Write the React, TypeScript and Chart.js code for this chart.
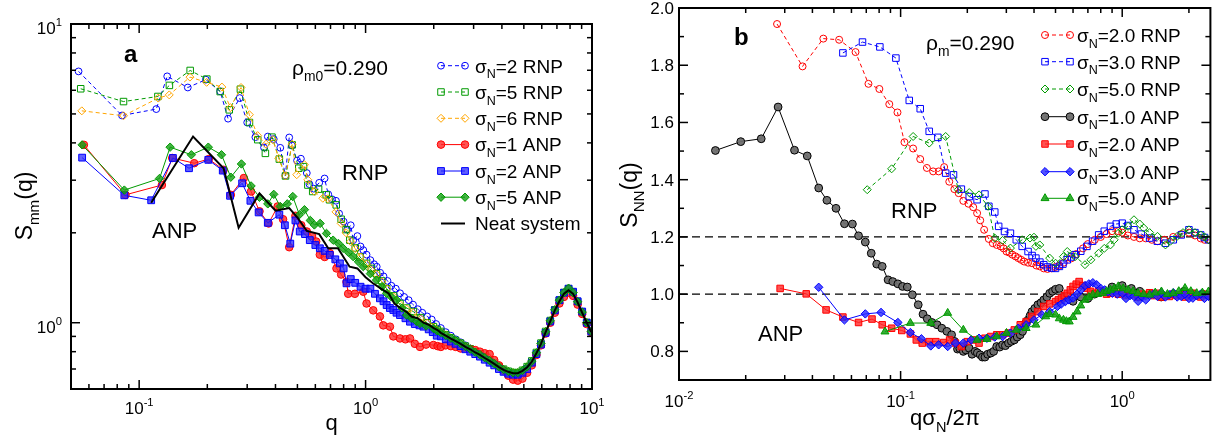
import React, { useEffect, useRef } from "react";
import { Chart, registerables } from "chart.js";

Chart.register(...registerables);

const FONT = '"Liberation Sans", Helvetica, Arial, sans-serif';

type Pt = [number, number];

// ================= Panel a : S_mm(q) =================
const qTailA = [2.15, 2.26, 2.38, 2.5, 2.63, 2.76, 2.9, 3.05, 3.2, 3.36, 3.53, 3.7, 3.88, 4.07, 4.27, 4.48, 4.7, 4.93, 5.17, 5.42, 5.68, 5.95, 6.24, 6.54, 6.85, 7.18, 7.52, 7.88, 8.25, 8.64, 9.05, 9.48, 9.93];

const aRNP2: Pt[] = [[0.054,6.94],[0.084,4.94],[0.119,5.19],[0.133,6.68],[0.164,6.13],[0.197,6.51],[0.228,5.95],[0.247,4.82],[0.278,5.65],[0.300,4.68],[0.326,4.18],[0.356,3.86],[0.370,4.20],[0.393,4.12],[0.420,3.85],[0.442,3.11],[0.460,4.17],[0.473,3.92],[0.498,3.49],[0.518,3.54],[0.550,3.17],[0.565,2.91],[0.590,2.81],[0.624,2.94],[0.659,3.04],[0.684,2.69],[0.711,2.59],[0.740,2.56],[0.764,2.32],[0.800,2.18],[0.830,2.05],[0.860,2.12],[0.882,1.89],[0.920,1.95],[0.950,1.80],[0.977,1.75],[1.01,1.69],[1.05,1.62],[1.09,1.57],[1.12,1.54],[1.16,1.47],[1.20,1.43],[1.25,1.38],[1.30,1.33],[1.36,1.30],[1.42,1.255],[1.48,1.22],[1.55,1.19],[1.62,1.15],[1.70,1.11],[1.78,1.08],[1.87,1.05],[1.96,1.025],[2.05,0.99]];
const aRNP2Tail = [0.96,0.93,0.905,0.88,0.86,0.84,0.82,0.80,0.785,0.765,0.748,0.73,0.713,0.697,0.684,0.676,0.676,0.686,0.705,0.735,0.785,0.845,0.925,1.01,1.10,1.19,1.26,1.30,1.27,1.18,1.09,1.00,0.935];

const aRNP5: Pt[] = [[0.0552,6.07],[0.0853,5.50],[0.121,5.72],[0.136,6.23],[0.168,6.99],[0.199,6.54],[0.228,5.94],[0.250,5.16],[0.280,6.05],[0.307,4.68],[0.334,4.10],[0.361,3.69],[0.386,4.18],[0.416,3.53],[0.443,3.10],[0.474,3.94],[0.507,3.29],[0.532,3.33],[0.556,2.89],[0.584,2.75],[0.62,2.80],[0.67,2.68],[0.693,2.58],[0.742,2.48],[0.78,2.22],[0.82,2.05],[0.852,1.89],[0.90,1.78],[0.944,1.66],[1.01,1.58],[1.06,1.52],[1.118,1.46],[1.18,1.38],[1.239,1.30],[1.33,1.23],[1.419,1.16],[1.52,1.12],[1.625,1.09],[1.75,1.04],[1.87,1.00],[1.993,0.97],[2.07,0.95]];
const aRNP5Tail = [0.935,0.912,0.89,0.872,0.854,0.835,0.818,0.80,0.784,0.766,0.749,0.732,0.714,0.699,0.688,0.681,0.681,0.693,0.713,0.745,0.795,0.855,0.935,1.017,1.105,1.19,1.262,1.30,1.262,1.177,1.087,1.002,0.937];

const aRNP6: Pt[] = [[0.0558,5.12],[0.0853,4.93],[0.1214,5.65],[0.1358,5.79],[0.1676,6.64],[0.1986,6.38],[0.232,6.15],[0.2527,5.25],[0.2817,6.13],[0.3068,4.97],[0.3338,4.23],[0.3634,3.96],[0.389,4.10],[0.4135,3.55],[0.4426,3.10],[0.4737,3.96],[0.4966,3.13],[0.537,3.38],[0.5557,3.01],[0.5944,2.75],[0.6474,2.61],[0.6813,2.60],[0.74,2.35],[0.78,2.15],[0.82,2.00],[0.86,1.87],[0.90,1.77],[0.95,1.66],[1.01,1.57],[1.06,1.50],[1.12,1.45],[1.18,1.37],[1.24,1.30],[1.33,1.22],[1.42,1.15],[1.52,1.11],[1.62,1.08],[1.75,1.03],[1.87,0.995],[1.99,0.965],[2.07,0.945]];
const aRNP6Tail = [0.93,0.91,0.89,0.871,0.853,0.834,0.817,0.798,0.783,0.765,0.748,0.731,0.713,0.698,0.687,0.68,0.68,0.692,0.712,0.744,0.794,0.854,0.934,1.016,1.104,1.188,1.26,1.298,1.26,1.176,1.086,1.001,0.936];

const aANP1: Pt[] = [[0.057,3.94],[0.087,2.68],[0.126,2.89],[0.140,3.56],[0.175,3.42],[0.203,3.53],[0.236,3.25],[0.254,2.68],[0.290,3.05],[0.312,2.75],[0.340,2.36],[0.373,2.15],[0.409,2.45],[0.432,2.22],[0.460,1.79],[0.490,2.28],[0.520,2.12],[0.550,2.02],[0.580,1.95],[0.605,1.87],[0.628,1.69],[0.660,1.66],[0.695,1.71],[0.744,1.52],[0.780,1.45],[0.824,1.37],[0.838,1.25],[0.897,1.25],[0.977,1.27],[1.01,1.16],[1.081,1.10],[1.157,1.05],[1.197,0.98],[1.281,0.97],[1.326,0.90],[1.419,0.886],[1.50,0.88],[1.571,0.886],[1.65,0.85],[1.739,0.83],[1.85,0.845],[1.993,0.842],[2.08,0.835]];
const aANP1Tail = [0.83,0.84,0.835,0.83,0.82,0.825,0.815,0.81,0.80,0.79,0.785,0.75,0.72,0.69,0.665,0.645,0.64,0.65,0.68,0.72,0.78,0.84,0.92,1.00,1.08,1.16,1.22,1.26,1.23,1.15,1.07,0.99,0.93];

const aANP2: Pt[] = [[0.056,3.57],[0.086,2.67],[0.113,2.57],[0.141,3.56],[0.166,3.29],[0.202,3.51],[0.234,3.23],[0.252,2.66],[0.285,2.93],[0.310,2.56],[0.337,2.34],[0.370,2.16],[0.416,2.30],[0.440,2.12],[0.465,1.84],[0.490,2.20],[0.512,2.02],[0.540,1.98],[0.567,1.89],[0.600,1.82],[0.628,1.775],[0.660,1.74],[0.695,1.686],[0.735,1.63],[0.770,1.58],[0.800,1.52],[0.824,1.355],[0.860,1.40],[0.900,1.36],[0.950,1.32],[1.00,1.30],[1.05,1.30],[1.10,1.25],[1.157,1.207],[1.20,1.18],[1.239,1.146],[1.28,1.12],[1.326,1.103],[1.37,1.08],[1.419,1.061],[1.50,1.035],[1.571,1.008],[1.65,0.99],[1.73,0.98],[1.80,0.97],[1.90,0.95],[1.98,0.93],[2.062,0.905]];
const aANP2Tail = [0.90,0.88,0.865,0.85,0.835,0.815,0.80,0.785,0.77,0.752,0.735,0.72,0.70,0.685,0.675,0.67,0.67,0.68,0.70,0.735,0.785,0.845,0.925,1.01,1.10,1.19,1.26,1.30,1.27,1.18,1.09,1.00,0.935];

const aANP5: Pt[] = [[0.056,3.94],[0.086,2.78],[0.123,3.04],[0.137,3.87],[0.170,3.65],[0.202,3.87],[0.231,3.65],[0.254,3.07],[0.283,3.40],[0.312,2.87],[0.340,2.63],[0.370,2.50],[0.393,2.69],[0.420,2.45],[0.451,2.50],[0.477,2.645],[0.510,2.30],[0.537,2.39],[0.570,2.20],[0.594,2.125],[0.630,2.15],[0.672,1.99],[0.719,1.89],[0.760,1.84],[0.796,1.775],[0.840,1.72],[0.882,1.664],[0.930,1.60],[0.977,1.541],[1.05,1.46],[1.118,1.39],[1.18,1.32],[1.239,1.254],[1.30,1.22],[1.372,1.191],[1.45,1.12],[1.518,1.061],[1.60,1.035],[1.68,1.01],[1.739,0.995],[1.85,0.975],[1.993,0.957],[2.07,0.94]];
const aANP5Tail = [0.927,0.907,0.888,0.87,0.852,0.833,0.816,0.797,0.782,0.764,0.747,0.73,0.712,0.697,0.687,0.68,0.68,0.692,0.712,0.743,0.793,0.853,0.933,1.015,1.105,1.19,1.26,1.305,1.26,1.175,1.085,1.00,0.935];

const aNeat: Pt[] = [[0.113,2.52],[0.173,4.20],[0.236,3.29],[0.275,2.08],[0.34,2.71],[0.40,2.37],[0.46,2.42],[0.50,2.25],[0.55,2.03],[0.624,1.98],[0.684,1.775],[0.755,1.775],[0.85,1.54],[0.92,1.52],[1.0,1.42],[1.078,1.355],[1.17,1.30],[1.264,1.254],[1.34,1.16],[1.423,1.12],[1.51,1.09],[1.60,1.047],[1.70,1.035],[1.80,1.00],[1.90,0.985],[2.0,0.96],[2.08,0.945]];
const aNeatTail = [0.925,0.905,0.885,0.868,0.85,0.83,0.815,0.795,0.78,0.762,0.745,0.728,0.71,0.695,0.685,0.678,0.678,0.69,0.71,0.74,0.79,0.85,0.93,1.01,1.10,1.18,1.25,1.285,1.25,1.17,1.08,1.00,0.93];

// ================= Panel b : S_NN(q) =================
const bRNP2: Pt[] = [[0.0277,1.944],[0.0361,1.796],[0.0448,1.893],[0.0528,1.889],[0.0626,1.846],[0.0716,1.735],[0.0802,1.717],[0.0889,1.664],[0.0968,1.635],[0.1041,1.531],[0.1139,1.509],[0.1226,1.472],[0.1314,1.441],[0.1402,1.429],[0.1485,1.429],[0.1572,1.444],[0.1658,1.393],[0.1748,1.367],[0.1828,1.353],[0.1919,1.326],[0.2024,1.316],[0.2126,1.304],[0.2214,1.283],[0.2287,1.258],[0.2382,1.225],[0.2501,1.193],[0.2605,1.178],[0.2714,1.172],[0.2827,1.167],[0.2915,1.16],[0.3005,1.149],[0.31,1.145],[0.3194,1.138],[0.33,1.132],[0.3396,1.126],[0.35,1.12],[0.361,1.114],[0.376,1.11],[0.3916,1.108],[0.41,1.10],[0.4247,1.097],[0.4426,1.09],[0.46,1.088],[0.48,1.09],[0.50,1.095],[0.5208,1.10],[0.545,1.11],[0.5887,1.125],[0.62,1.14],[0.6653,1.16],[0.70,1.175],[0.7517,1.19],[0.80,1.20],[0.8495,1.21],[0.90,1.22],[0.96,1.22],[1.0,1.215],[1.06,1.205],[1.13,1.20],[1.2,1.195],[1.277,1.195],[1.36,1.19],[1.443,1.185],[1.55,1.19],[1.698,1.20],[1.85,1.21],[2.0,1.215],[2.13,1.205],[2.259,1.195],[2.35,1.19],[2.452,1.19]];

const bRNP3: Pt[] = [[0.0549,1.843],[0.0673,1.881],[0.0806,1.864],[0.0952,1.825],[0.1094,1.677],[0.1226,1.648],[0.1346,1.569],[0.1473,1.548],[0.1597,1.423],[0.1733,1.417],[0.188,1.367],[0.204,1.341],[0.2214,1.330],[0.2402,1.350],[0.2501,1.307],[0.266,1.287],[0.277,1.237],[0.2944,1.219],[0.313,1.213],[0.3327,1.19],[0.3537,1.167],[0.376,1.149],[0.392,1.135],[0.4078,1.126],[0.425,1.112],[0.4426,1.103],[0.46,1.095],[0.4801,1.091],[0.50,1.09],[0.5208,1.097],[0.54,1.105],[0.565,1.12],[0.59,1.13],[0.613,1.138],[0.65,1.15],[0.6929,1.167],[0.735,1.185],[0.783,1.207],[0.83,1.22],[0.8849,1.237],[0.94,1.245],[1.0,1.248],[1.06,1.24],[1.13,1.225],[1.22,1.21],[1.329,1.196],[1.44,1.185],[1.567,1.178],[1.70,1.19],[1.847,1.207],[2.0,1.225],[2.13,1.215],[2.259,1.207],[2.35,1.198],[2.452,1.19]];

const bRNP5: Pt[] = [[0.0707,1.365],[0.0911,1.438],[0.1139,1.551],[0.1346,1.528],[0.1597,1.551],[0.182,1.365],[0.204,1.355],[0.2259,1.347],[0.2482,1.307],[0.266,1.196],[0.2885,1.188],[0.313,1.161],[0.3537,1.19],[0.3837,1.196],[0.3998,1.199],[0.4078,1.167],[0.4247,1.172],[0.4706,1.126],[0.5002,1.108],[0.5429,1.131],[0.565,1.149],[0.613,1.131],[0.6791,1.103],[0.7222,1.12],[0.783,1.143],[0.83,1.16],[0.8849,1.172],[0.92,1.19],[0.9601,1.213],[1.0,1.225],[1.063,1.237],[1.13,1.26],[1.2,1.245],[1.251,1.231],[1.33,1.215],[1.443,1.202],[1.567,1.172],[1.65,1.185],[1.769,1.202],[1.88,1.215],[2.0,1.225],[2.13,1.215],[2.259,1.207],[2.35,1.2],[2.452,1.19]];

const bANP1: Pt[] = [[0.0146,1.502],[0.0190,1.533],[0.0235,1.543],[0.0280,1.654],[0.0332,1.503],[0.0379,1.483],[0.0427,1.371],[0.0465,1.328],[0.0511,1.300],[0.0558,1.246],[0.0606,1.245],[0.0646,1.204],[0.0693,1.182],[0.0737,1.143],[0.0780,1.105],[0.0826,1.097],[0.0878,1.050],[0.0922,1.044],[0.0972,1.036],[0.1020,1.027],[0.1072,1.025],[0.1130,0.998],[0.1201,0.963],[0.1262,0.930],[0.1319,0.914],[0.1385,0.901],[0.1461,0.893],[0.1534,0.881],[0.1617,0.870],[0.1699,0.858],[0.175,0.835],[0.1806,0.808],[0.185,0.81],[0.1919,0.800],[0.197,0.805],[0.2040,0.811],[0.21,0.79],[0.2169,0.800],[0.222,0.795],[0.2287,0.788],[0.234,0.78],[0.2402,0.780],[0.247,0.79],[0.2553,0.794],[0.263,0.80],[0.2714,0.817],[0.28,0.815],[0.2885,0.823],[0.297,0.82],[0.3067,0.829],[0.316,0.835],[0.3260,0.840],[0.336,0.85],[0.3466,0.858],[0.355,0.87],[0.3610,0.887],[0.368,0.90],[0.3760,0.910],[0.384,0.925],[0.3916,0.939],[0.403,0.95],[0.4163,0.963],[0.43,0.97],[0.4426,0.980],[0.457,0.99],[0.4706,1.003],[0.485,1.01],[0.5002,1.017],[0.52,1.02],[0.55,0.99],[0.6,0.975],[0.65,0.99],[0.7,0.985],[0.75,1.0],[0.8,1.01],[0.9,1.025],[1.0,1.03],[1.1,1.02],[1.2,1.01],[1.35,1.0],[1.5,0.99],[1.7,1.0],[1.9,1.01],[2.1,1.0],[2.3,1.0],[2.45,0.995]];

const bANP2: Pt[] = [[0.0286,1.020],[0.0375,1.001],[0.0461,0.945],[0.0549,0.920],[0.0646,0.901],[0.0743,0.913],[0.0826,0.893],[0.0911,0.881],[0.1012,0.873],[0.1107,0.861],[0.1177,0.840],[0.1252,0.829],[0.1346,0.834],[0.1443,0.834],[0.1565,0.831],[0.1664,0.840],[0.1769,0.829],[0.188,0.817],[0.1999,0.834],[0.2126,0.840],[0.2259,0.829],[0.2402,0.846],[0.2553,0.852],[0.2714,0.858],[0.2885,0.858],[0.3067,0.864],[0.326,0.875],[0.3466,0.893],[0.3685,0.904],[0.3916,0.922],[0.4163,0.939],[0.4426,0.957],[0.4706,0.966],[0.50,0.974],[0.515,0.98],[0.532,0.986],[0.548,0.995],[0.565,1.003],[0.583,1.015],[0.60,1.027],[0.62,1.035],[0.639,1.044],[0.665,1.03],[0.693,1.021],[0.72,1.01],[0.752,1.003],[0.785,1.012],[0.816,1.009],[0.85,1.0],[0.885,1.003],[0.92,1.01],[0.96,1.0],[1.0,1.006],[1.04,0.995],[1.085,1.002],[1.13,0.998],[1.18,0.99],[1.23,1.0],[1.277,0.998],[1.33,1.005],[1.385,0.995],[1.443,1.003],[1.50,0.99],[1.565,0.995],[1.631,0.992],[1.70,1.0],[1.77,0.995],[1.847,0.998],[1.92,0.99],[2.0,1.0],[2.083,1.003],[2.17,0.995],[2.26,0.99],[2.35,1.0],[2.452,0.998]];

const bANP3: Pt[] = [[0.0427,1.024],[0.0558,0.910],[0.0693,0.931],[0.0816,0.936],[0.0972,0.901],[0.1107,0.866],[0.1241,0.844],[0.1368,0.819],[0.1485,0.823],[0.1631,0.817],[0.1769,0.829],[0.1919,0.829],[0.2083,0.840],[0.2259,0.846],[0.2452,0.846],[0.266,0.850],[0.2885,0.852],[0.313,0.864],[0.3396,0.881],[0.3685,0.893],[0.3998,0.910],[0.4337,0.928],[0.4706,0.939],[0.51,0.957],[0.53,0.965],[0.554,0.974],[0.575,0.98],[0.60,0.986],[0.625,1.0],[0.652,1.015],[0.68,1.03],[0.707,1.036],[0.737,1.04],[0.767,1.033],[0.80,1.02],[0.833,1.015],[0.865,1.008],[0.903,1.003],[0.95,1.0],[1.0,1.003],[1.04,0.985],[1.085,0.995],[1.13,0.992],[1.18,0.975],[1.23,0.99],[1.277,0.98],[1.33,0.995],[1.385,1.0],[1.443,0.992],[1.50,1.005],[1.565,0.99],[1.631,0.998],[1.70,1.005],[1.77,0.99],[1.847,0.992],[1.92,1.0],[2.0,0.985],[2.083,0.986],[2.17,0.995],[2.26,1.0],[2.35,0.985],[2.452,0.992]];

const bANP5: Pt[] = [[0.085,0.869],[0.1107,0.899],[0.1368,0.899],[0.1631,0.934],[0.1919,0.875],[0.2214,0.840],[0.2452,0.843],[0.2714,0.852],[0.3005,0.864],[0.3327,0.875],[0.3685,0.881],[0.4078,0.893],[0.4518,0.922],[0.4706,0.93],[0.50,0.928],[0.52,0.915],[0.543,0.91],[0.56,0.905],[0.577,0.904],[0.60,0.92],[0.626,0.939],[0.65,0.96],[0.679,0.98],[0.707,0.99],[0.737,0.998],[0.775,1.0],[0.816,1.003],[0.85,1.01],[0.885,1.015],[0.92,1.02],[0.96,1.027],[1.01,1.02],[1.063,1.015],[1.12,1.01],[1.177,1.003],[1.25,1.0],[1.329,0.998],[1.41,1.005],[1.503,1.009],[1.60,1.0],[1.698,1.003],[1.80,1.01],[1.92,1.021],[2.04,1.01],[2.169,1.003],[2.30,1.005],[2.452,1.009]];

// ================= axes / tick labels =================
const aXMajor = [0.1, 1, 10];
const aXExp = ["-1", "0", "1"];
const aYMajor = [1, 10];
const aYExp = ["0", "1"];
const bXMajor = [0.01, 0.1, 1];
const bXExp = ["-2", "-1", "0"];
const bYMajor = [0.8, 1.0, 1.2, 1.4, 1.6, 1.8, 2.0];
const bYMinor = [0.7, 0.9, 1.1, 1.3, 1.5, 1.7, 1.9];
const bRefLines = [1.0, 1.2];

// ================= helpers =================
type Part = { t: string; s?: "sub" | "sup" };

function richDraw(ctx: any, parts: Part[], x: number, y: number, size: number, align: string, bold = false) {
  const w = bold ? "bold " : "";
  const small = size * 0.66;
  const widths = parts.map((p) => {
    ctx.font = `${w}${p.s ? small : size}px ${FONT}`;
    return ctx.measureText(p.t).width;
  });
  const total = widths.reduce((a, b) => a + b, 0);
  let cx = align === "center" ? x - total / 2 : align === "right" ? x - total : x;
  ctx.textAlign = "left";
  ctx.textBaseline = "alphabetic";
  parts.forEach((p, i) => {
    ctx.font = `${w}${p.s ? small : size}px ${FONT}`;
    const dy = p.s === "sub" ? size * 0.3 : p.s === "sup" ? -size * 0.45 : 0;
    ctx.fillText(p.t, cx, y + dy);
    cx += widths[i];
  });
}

function drawMarker(ctx: any, style: string, x: number, y: number, r: number) {
  ctx.beginPath();
  if (style === "circle") ctx.arc(x, y, r, 0, Math.PI * 2);
  else if (style === "rect") {
    const s = r * Math.SQRT1_2;
    ctx.rect(x - s, y - s, 2 * s, 2 * s);
  } else if (style === "rectRot") {
    ctx.moveTo(x - r, y);
    ctx.lineTo(x, y - r);
    ctx.lineTo(x + r, y);
    ctx.lineTo(x, y + r);
    ctx.closePath();
  } else if (style === "triangle") {
    let a = 0;
    ctx.moveTo(x + Math.sin(a) * r, y - Math.cos(a) * r);
    a += (2 * Math.PI) / 3;
    ctx.lineTo(x + Math.sin(a) * r, y - Math.cos(a) * r);
    a += (2 * Math.PI) / 3;
    ctx.lineTo(x + Math.sin(a) * r, y - Math.cos(a) * r);
    ctx.closePath();
  }
}

function logMinor(min: number, max: number) {
  const out: number[] = [];
  for (let e = Math.floor(Math.log10(min)); e <= Math.ceil(Math.log10(max)); e++) {
    for (let m = 2; m <= 9; m++) {
      const v = m * Math.pow(10, e);
      if (v > min && v < max) out.push(v);
    }
  }
  return out;
}

type Style = { label: Part[]; color: string; fill: string; style: string | null; r: number; dash: number[]; lw: number };

const sig = (rest: string): Part[] => [{ t: "σ" }, { t: "N", s: "sub" }, { t: rest }];

const BLUE = "#0000ff";
const RED = "#ff0000";
const GREEN = "#009a00";
const ORANGE = "#ffa500";

const aStyles: Style[] = [
  { label: sig("=2 RNP"), color: BLUE, fill: "rgba(255,255,255,0)", style: "circle", r: 3.4, dash: [4, 3], lw: 1 },
  { label: sig("=5 RNP"), color: GREEN, fill: "rgba(255,255,255,0)", style: "rect", r: 4.6, dash: [4, 3], lw: 1 },
  { label: sig("=6 RNP"), color: ORANGE, fill: "rgba(255,255,255,0)", style: "rectRot", r: 4, dash: [4, 3], lw: 1 },
  { label: sig("=1 ANP"), color: RED, fill: "rgba(255,40,40,0.8)", style: "circle", r: 3.8, dash: [], lw: 1 },
  { label: sig("=2 ANP"), color: BLUE, fill: "rgba(40,40,255,0.75)", style: "rect", r: 4.8, dash: [], lw: 1 },
  { label: sig("=5 ANP"), color: GREEN, fill: "rgba(20,160,20,0.8)", style: "rectRot", r: 4.2, dash: [], lw: 1 },
  { label: [{ t: "Neat system" }], color: "#000000", fill: "#000", style: null, r: 0, dash: [], lw: 2 },
];

const bStyles: Style[] = [
  { label: sig("=2.0 RNP"), color: RED, fill: "rgba(255,255,255,0)", style: "circle", r: 3.5, dash: [4, 3], lw: 1 },
  { label: sig("=3.0 RNP"), color: BLUE, fill: "rgba(255,255,255,0)", style: "rect", r: 4.6, dash: [4, 3], lw: 1 },
  { label: sig("=5.0 RNP"), color: GREEN, fill: "rgba(255,255,255,0)", style: "rectRot", r: 4, dash: [4, 3], lw: 1 },
  { label: sig("=1.0 ANP"), color: "#000000", fill: "rgba(110,110,110,0.95)", style: "circle", r: 3.9, dash: [], lw: 1 },
  { label: sig("=2.0 ANP"), color: RED, fill: "rgba(255,40,40,0.8)", style: "rect", r: 4.6, dash: [], lw: 1 },
  { label: sig("=3.0 ANP"), color: BLUE, fill: "rgba(40,40,255,0.8)", style: "rectRot", r: 4.2, dash: [], lw: 1 },
  { label: sig("=5.0 ANP"), color: GREEN, fill: "rgba(20,160,20,0.85)", style: "triangle", r: 4.6, dash: [], lw: 1 },
];

const withTail = (pts: Pt[], tail: number[]): Pt[] => [...pts, ...qTailA.map((q, i) => [q, tail[i]] as Pt)];

function makeDatasets(series: Pt[][], styles: Style[]) {
  return series.map((pts, i) => {
    const st = styles[i];
    const data = pts.slice().sort((a, b) => a[0] - b[0]).map(([x, y]) => ({ x, y }));
    return {
      data,
      showLine: true,
      borderColor: st.color,
      borderWidth: st.lw,
      borderDash: st.dash,
      pointStyle: st.style || "circle",
      pointRadius: st.style ? st.r : 0,
      pointBackgroundColor: st.fill,
      pointBorderColor: st.color,
      pointBorderWidth: 1,
      tension: 0,
      order: -i,
    };
  });
}

type Spec = {
  yLog: boolean;
  xMajor: number[];
  xExp: string[];
  xMinor: number[];
  yMajor: number[];
  yMinor: number[];
  yLabels: Part[][];
  xLabelDy: number;
  yLabelGap: number;
  yLabelDy: number;
  xTitle: Part[];
  xTitlePos: [number, number];
  yTitle: Part[];
  yTitlePos: [number, number];
  texts: { parts: Part[]; x: number; y: number; size: number; bold?: boolean }[];
  legend: { x0: number; x1: number; tx: number; ys: number[] };
  styles: Style[];
  hlines?: number[];
};

function overlay(spec: Spec) {
  return {
    id: "overlay",
    beforeDatasetsDraw(chart: any) {
      if (!spec.hlines) return;
      const { ctx, chartArea: ca } = chart;
      const ys = chart.scales.y;
      ctx.save();
      ctx.strokeStyle = "#000";
      ctx.lineWidth = 1.4;
      ctx.setLineDash([8, 5]);
      spec.hlines.forEach((v) => {
        const py = ys.getPixelForValue(v);
        ctx.beginPath();
        ctx.moveTo(ca.left, py);
        ctx.lineTo(ca.right, py);
        ctx.stroke();
      });
      ctx.restore();
    },
    afterDraw(chart: any) {
      const { ctx, chartArea: ca } = chart;
      const xs = chart.scales.x;
      const ys = chart.scales.y;
      ctx.save();
      ctx.strokeStyle = "#000";
      ctx.fillStyle = "#000";
      ctx.lineWidth = 1.5;
      ctx.setLineDash([]);
      const seg = (x1: number, y1: number, x2: number, y2: number) => {
        ctx.beginPath();
        ctx.moveTo(x1, y1);
        ctx.lineTo(x2, y2);
        ctx.stroke();
      };
      const xt = [...spec.xMajor.map((v) => [v, 9]), ...spec.xMinor.map((v) => [v, 5])];
      xt.forEach(([v, len]) => {
        const px = xs.getPixelForValue(v);
        seg(px, ca.bottom, px, ca.bottom - len);
        seg(px, ca.top, px, ca.top + len);
      });
      const yt = [...spec.yMajor.map((v) => [v, 9]), ...spec.yMinor.map((v) => [v, 5])];
      yt.forEach(([v, len]) => {
        const py = ys.getPixelForValue(v);
        seg(ca.left, py, ca.left + len, py);
        seg(ca.right, py, ca.right - len, py);
      });
      ctx.lineWidth = 2;
      ctx.strokeRect(ca.left, ca.top, ca.right - ca.left, ca.bottom - ca.top);

      // tick labels
      spec.xMajor.forEach((v, i) => {
        const px = xs.getPixelForValue(v);
        richDraw(ctx, [{ t: "10" }, { t: spec.xExp[i], s: "sup" }], px, ca.bottom + spec.xLabelDy, 17, "center");
      });
      spec.yMajor.forEach((v, i) => {
        const py = ys.getPixelForValue(v);
        richDraw(ctx, spec.yLabels[i], ca.left - spec.yLabelGap, py + spec.yLabelDy, 17, "right");
      });

      // axis titles
      richDraw(ctx, spec.xTitle, spec.xTitlePos[0], spec.xTitlePos[1], 22, "center");
      ctx.save();
      ctx.translate(spec.yTitlePos[0], spec.yTitlePos[1]);
      ctx.rotate(-Math.PI / 2);
      richDraw(ctx, spec.yTitle, 0, 0, 23, "center");
      ctx.restore();

      // annotations
      spec.texts.forEach((t) => richDraw(ctx, t.parts, t.x, t.y, t.size, "left", !!t.bold));

      // legend
      const lg = spec.legend;
      spec.styles.forEach((st, i) => {
        const y = lg.ys[i];
        ctx.save();
        ctx.strokeStyle = st.color;
        ctx.lineWidth = st.lw;
        ctx.setLineDash(st.dash);
        seg(lg.x0, y, lg.x1, y);
        ctx.restore();
        if (st.style) {
          [lg.x0, lg.x1].forEach((mx) => {
            drawMarker(ctx, st.style as string, mx, y, st.r);
            ctx.fillStyle = st.fill;
            ctx.fill();
            ctx.strokeStyle = st.color;
            ctx.lineWidth = 1;
            ctx.setLineDash([]);
            ctx.stroke();
          });
        }
        ctx.fillStyle = "#000";
        richDraw(ctx, st.label, lg.tx, y + 6.8, 19, "left");
      });
      ctx.restore();
    },
  };
}

function buildA() {
  const series = [
    withTail(aRNP2, aRNP2Tail),
    withTail(aRNP5, aRNP5Tail),
    withTail(aRNP6, aRNP6Tail),
    withTail(aANP1, aANP1Tail),
    withTail(aANP2, aANP2Tail),
    withTail(aANP5, aANP5Tail),
    withTail(aNeat, aNeatTail),
  ];
  const spec: Spec = {
    yLog: true,
    xMajor: aXMajor,
    xExp: aXExp,
    xMinor: logMinor(0.05, 10),
    yMajor: aYMajor,
    yMinor: logMinor(0.6, 10),
    yLabels: aYExp.map((e) => [{ t: "10" }, { t: e, s: "sup" }] as Part[]),
    xLabelDy: 25,
    yLabelGap: 9,
    yLabelDy: 10,
    xTitle: [{ t: "q" }],
    xTitlePos: [331.5, 430],
    yTitle: [{ t: "S" }, { t: "mm", s: "sub" }, { t: "(q)" }],
    yTitlePos: [32, 206],
    texts: [
      { parts: [{ t: "a" }], x: 124, y: 62, size: 24, bold: true },
      { parts: [{ t: "ρ" }, { t: "m0", s: "sub" }, { t: "=0.290" }], x: 292, y: 75, size: 21 },
      { parts: [{ t: "RNP" }], x: 342, y: 180, size: 22 },
      { parts: [{ t: "ANP" }], x: 152, y: 238, size: 22 },
    ],
    legend: { x0: 441, x1: 465, tx: 475, ys: [65.7, 92, 118.3, 144.6, 171, 197.2, 223.5] },
    styles: aStyles,
  };
  return {
    type: "scatter",
    data: { datasets: makeDatasets(series, aStyles) },
    options: {
      animation: false,
      responsive: false,
      devicePixelRatio: 1,
      events: [],
      layout: { padding: { left: 71, right: 16, top: 24, bottom: 54 } },
      plugins: { legend: { display: false }, tooltip: { enabled: false } },
      scales: {
        x: { type: "logarithmic", min: 0.05, max: 10, display: false },
        y: { type: "logarithmic", min: 0.6, max: 10, display: false },
      },
    },
    plugins: [overlay(spec)],
  };
}

function buildB() {
  const series = [bRNP2, bRNP3, bRNP5, bANP1, bANP2, bANP3, bANP5];
  const spec: Spec = {
    yLog: false,
    xMajor: bXMajor,
    xExp: bXExp,
    xMinor: logMinor(0.01, 2.5),
    yMajor: bYMajor,
    yMinor: bYMinor,
    yLabels: bYMajor.map((v) => [{ t: v.toFixed(1) }] as Part[]),
    xLabelDy: 27,
    yLabelGap: 5,
    yLabelDy: 6,
    xTitle: [{ t: "qσ" }, { t: "N", s: "sub" }, { t: "/2π" }],
    xTitlePos: [337, 425],
    yTitle: [{ t: "S" }, { t: "NN", s: "sub" }, { t: "(q)" }],
    yTitlePos: [29, 195],
    texts: [
      { parts: [{ t: "b" }], x: 126, y: 45, size: 24, bold: true },
      { parts: [{ t: "ρ" }, { t: "m", s: "sub" }, { t: "=0.290" }], x: 318, y: 50, size: 21 },
      { parts: [{ t: "RNP" }], x: 283, y: 218, size: 22 },
      { parts: [{ t: "ANP" }], x: 150, y: 341, size: 22 },
    ],
    legend: { x0: 437, x1: 462, tx: 469, ys: [35, 61.7, 89, 116.7, 144, 171.7, 198.3] },
    styles: bStyles,
    hlines: bRefLines,
  };
  return {
    type: "scatter",
    data: { datasets: makeDatasets(series, bStyles) },
    options: {
      animation: false,
      responsive: false,
      devicePixelRatio: 1,
      events: [],
      layout: { padding: { left: 71, right: 5, top: 8, bottom: 63 } },
      plugins: { legend: { display: false }, tooltip: { enabled: false } },
      scales: {
        x: { type: "logarithmic", min: 0.01, max: 2.5, display: false },
        y: { type: "linear", min: 0.7, max: 2.0, display: false },
      },
    },
    plugins: [overlay(spec)],
  };
}

export default function App() {
  const refA = useRef<HTMLCanvasElement>(null);
  const refB = useRef<HTMLCanvasElement>(null);
  useEffect(() => {
    const ca = new Chart(refA.current as HTMLCanvasElement, buildA() as any);
    const cb = new Chart(refB.current as HTMLCanvasElement, buildB() as any);
    return () => {
      ca.destroy();
      cb.destroy();
    };
  }, []);
  return (
    <div style={{ position: "fixed", left: 0, top: 0, width: 1216, height: 443, background: "#fff" }}>
      <canvas ref={refA} width={608} height={443} style={{ position: "absolute", left: 0, top: 0, width: 608, height: 443 }} />
      <canvas ref={refB} width={608} height={443} style={{ position: "absolute", left: 608, top: 0, width: 608, height: 443 }} />
    </div>
  );
}
